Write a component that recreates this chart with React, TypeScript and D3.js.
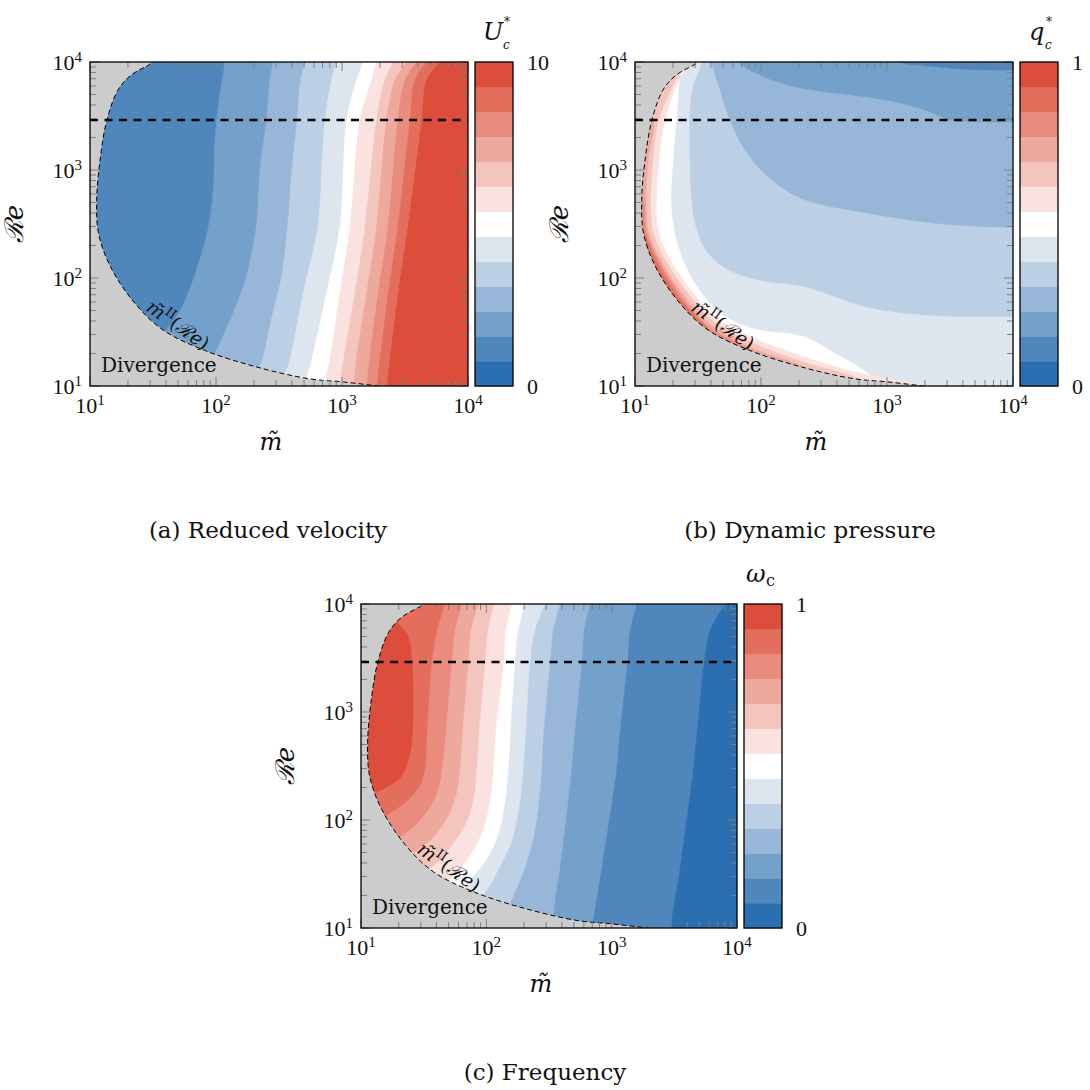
import React from 'react';
import * as d3 from 'd3';

type Pt = [number, number];
type Layer = { fill: number; pts: Pt[] };
type Side = 'right' | 'left' | 'topright' | 'bottomleft';

// 13 discrete levels, index 0 = lowest value (dark blue) ... 12 = highest (dark red)
const PALETTE = ['#2c6fb0', '#4f87bd', '#74a1ca', '#98b7d8', '#bcd0e5', '#dde6ef', '#ffffff',
  '#f9e2df', '#f3c5bd', '#eea99d', '#e98c7d', '#e36e5b', '#dc4e3b'];
const DIVERGENCE_FILL = '#cccccc';

const DECADES = [10, 100, 1000, 10000];
const DECADE_EXPONENTS = ['1', '2', '3', '4'];
const MINOR_MULTIPLIERS = [2, 3, 4, 5, 6, 7, 8, 9];
const RE_REFERENCE = 2900;

// stability limit m^II(Re): [m, Re]
const DIVERGENCE_BOUNDARY: Pt[] = [[38, 12000], [32, 10000], [21, 7500], [16.6, 5460], [13.6, 2880], [12.1, 1320],
  [11.3, 525], [11.7, 257], [14.6, 126], [22.8, 58], [38, 33], [81, 21.4], [210, 15], [540, 11.7], [1020, 10.9],
  [1920, 10], [3000, 9.3]];

// (a) reduced velocity U_c^*  (level boundaries, region of higher level lies to the right)
const VELOCITY_BASE = 1;
const VELOCITY_LAYERS: Layer[] = [
  { fill: 2, pts: [[118, 10000], [104, 3830], [98, 1880], [95, 650], [86, 276], [74, 146], [63, 83], [52, 50], [42, 35], [35, 26]] },
  { fill: 3, pts: [[285, 10000], [268, 6800], [252, 2900], [223, 1000], [210, 316], [173, 100], [143, 54], [118, 32], [98, 20], [80, 15]] },
  { fill: 4, pts: [[510, 10000], [470, 6800], [440, 2900], [400, 1000], [370, 300], [330, 100], [290, 54], [262, 32], [235, 18], [200, 12]] },
  { fill: 5, pts: [[908, 10000], [828, 6800], [733, 2900], [690, 1000], [645, 300], [493, 73], [386, 17.4], [353, 13.1], [300, 9]] },
  { fill: 6, pts: [[1475, 10000], [1306, 6800], [1090, 2900], [963, 300], [755, 73], [575, 17.4], [537, 13.1], [480, 9]] },
  { fill: 7, pts: [[1883, 10000], [1720, 6800], [1389, 2900], [1157, 300], [963, 73], [800, 17.4], [757, 13.1], [700, 9]] },
  { fill: 8, pts: [[2550, 10000], [2190, 6800], [1883, 2900], [1524, 300], [1268, 73], [1030, 17.4], [995, 13.1], [950, 9]] },
  { fill: 9, pts: [[3260, 10000], [2635, 6800], [2260, 2900], [1883, 300], [1570, 73], [1300, 17.4], [1268, 13.1], [1220, 9]] },
  { fill: 10, pts: [[3910, 10000], [3160, 6800], [2780, 2900], [2317, 300], [1940, 73], [1650, 17.4], [1607, 13.1], [1560, 9]] },
  { fill: 11, pts: [[4700, 10000], [3795, 6800], [3470, 2900], [2780, 300], [2333, 73], [2000, 17.4], [1940, 13.1], [1880, 9]] },
  { fill: 12, pts: [[6000, 10000], [4700, 6800], [4300, 2900], [3340, 300], [2800, 73], [2400, 17.4], [2333, 13.1], [2280, 9]] },
];

// (b) dynamic pressure q_c^*
const PRESSURE_BASE = 5;
const PRESSURE_BLUE_LAYERS: Layer[] = [
  { fill: 4, pts: [[36, 20000], [34, 10000], [29, 6000], [27.4, 3590], [27.4, 1200], [28.2, 528], [31, 278], [38, 170], [55, 119], [95, 96], [223, 83], [690, 54], [2317, 45], [6560, 44], [10000, 44], [20000, 44]] },
  { fill: 3, pts: [[40.8, 20000], [40.8, 10000], [47.3, 5510], [56.8, 2900], [74.7, 1530], [108, 918], [204, 551], [694, 400], [2317, 323], [6560, 297], [10000, 297], [20000, 297]] },
  { fill: 2, pts: [[68, 20000], [68, 10000], [98, 7580], [204, 5740], [694, 4745], [1268, 4170], [2317, 3370], [3160, 2900], [6560, 2780], [10000, 2780], [20000, 2780]] },
  { fill: 1, pts: [[1100, 12000], [1268, 10000], [2190, 9180], [3790, 8610], [6560, 8430], [10000, 8430], [20000, 8430]] },
];
const PRESSURE_RED_LAYERS: Layer[] = [
  { fill: 6, pts: [[24, 12000], [22.8, 7850], [21.6, 3590], [20, 1200], [19.3, 528], [20.6, 259], [25.3, 127], [34.5, 70], [49.5, 46], [86, 34], [223, 28.5], [372, 20.6], [690, 13.4], [929, 10.3], [1200, 9]] },
  { fill: 7, pts: [[36, 12900], [22.6, 6810], [17.1, 2735], [15.6, 1282], [14.8, 524], [15.3, 270], [19.3, 144], [29, 72.5], [44.2, 42.7], [88, 27.7], [217, 18.8], [551, 13.5], [1030, 11.8], [1940, 10.2], [3790, 8.8]] },
  { fill: 8, pts: [[24.9, 10400], [21.5, 7210], [15.3, 2800], [13.9, 1300], [13.3, 524], [13.9, 266], [17.8, 139], [27.2, 68.3], [42.2, 39.5], [85.5, 25.1], [213, 16.8], [546, 12.2], [879, 9.2]] },
  { fill: 9, pts: [[12.0, 3590], [14.0, 2860], [12.8, 1310], [12.2, 524], [12.9, 263], [16.6, 136], [25.5, 64.1], [40.2, 36.4], [82.6, 22.7], [210, 15.3], [353, 10.2]] },
  { fill: 10, pts: [[10.6, 653], [11.7, 525], [12.4, 261], [16.0, 133], [24.6, 62.1], [39.0, 34.5], [81.3, 21.6], [118, 14.1]] },
  { fill: 11, pts: [[11.0, 310], [11.9, 258], [15.4, 130], [23.8, 60], [38.3, 33.3], [43.2, 26.7]] },
];

// (c) frequency omega_c (region of higher level lies to the left)
const FREQUENCY_BASE = 0;
const FREQUENCY_LAYERS: Layer[] = [
  { fill: 1, pts: [[8020, 10000], [6095, 5740], [5454, 2900], [4710, 551], [4480, 310], [3508, 37], [3013, 12.6], [2864, 8.6]] },
  { fill: 2, pts: [[1585, 10000], [1400, 5740], [1333, 2900], [1143, 551], [1096, 310], [832, 37], [713, 12.6], [671, 8.6]] },
  { fill: 3, pts: [[671, 10000], [601, 5740], [577, 2900], [500, 551], [480, 310], [387, 37], [353, 18.2], [334, 9.6]] },
  { fill: 4, pts: [[387, 10000], [340, 5740], [322, 2900], [283, 551], [277, 310], [244, 81], [204, 37], [159, 18.2], [128, 9.6]] },
  { fill: 5, pts: [[294, 10000], [244, 5740], [223, 2900], [204, 551], [197, 310], [186, 153], [160, 65], [128, 37], [101, 22.5], [81, 16.3]] },
  { fill: 6, pts: [[204, 10000], [179, 5740], [169, 2900], [154, 551], [150, 310], [141, 153], [124, 73], [97.5, 41], [74.1, 28], [63.9, 22.5]] },
  { fill: 7, pts: [[160, 10000], [143, 5740], [137, 2900], [117, 551], [114, 310], [107, 153], [94, 81], [74.1, 47], [56.2, 31], [46.8, 27]] },
  { fill: 8, pts: [[115, 10000], [103, 5740], [97.5, 2900], [86.3, 551], [83.8, 310], [78.3, 153], [67.6, 90], [53.2, 59], [41.1, 41], [35.6, 36]] },
  { fill: 9, pts: [[85.8, 10000], [75.4, 5740], [71.8, 2900], [63.6, 551], [61.7, 310], [57.3, 170], [47.6, 100], [35.6, 65], [27.0, 51], [24.6, 46]] },
  { fill: 10, pts: [[63.9, 10000], [56.2, 5740], [52.9, 2900], [46.8, 551], [44.3, 310], [41.1, 190], [34.3, 124], [25.5, 84], [19.7, 68], [17.0, 59]] },
  { fill: 11, pts: [[46.8, 10000], [40.4, 5740], [36.7, 2900], [33.4, 551], [32.4, 310], [29.6, 211], [23.7, 153], [17.7, 119], [14.2, 100]] },
  { fill: 12, pts: [[17.0, 8430], [19.4, 6810], [23.7, 5060], [25.5, 3030], [26.0, 1500], [25.5, 551], [23.7, 344], [20.5, 245], [15.5, 198], [11.4, 170]] },
];

const CB_LABELS_A = ['0', '10'];
const CB_LABELS_B = ['0', '1'];
const CB_LABELS_C = ['0', '1'];
const CAPTIONS = ['(a) Reduced velocity', '(b) Dynamic pressure', '(c) Frequency'];

const SERIF = "'DejaVu Serif', serif";
const NUM = "'Liberation Serif', serif";
const LO = 1;
const HI = 1e5;

function closing(side: Side, first: Pt, last: Pt): Pt[] {
  switch (side) {
    case 'right': return [[last[0], LO], [HI, LO], [HI, HI], [first[0], HI]];
    case 'left': return [[LO, last[1]], [LO, HI], [first[0], HI]];
    case 'topright': return [[HI, last[1]], [HI, HI], [first[0], HI]];
    default: return [[last[0], LO], [LO, LO], [LO, first[1]]];
  }
}

interface PanelProps {
  id: string;
  x0: number; y0: number; w: number; h: number;
  base: number;
  groups: { side: Side; layers: Layer[] }[];
  cbLabels: string[];
  title: (cx: number, ty: number) => React.ReactNode;
  caption: string; captionX: number; captionY: number;
}

function Panel(p: PanelProps) {
  const { id, x0, y0, w, h } = p;
  const x = d3.scaleLog().domain([10, 1e4]).range([x0, x0 + w]);
  const y = d3.scaleLog().domain([10, 1e4]).range([y0 + h, y0]);
  const line = d3.line<Pt>().x(d => x(d[0])).y(d => y(d[1])).curve(d3.curveCatmullRom.alpha(0.5));
  const area = (pts: Pt[], side: Side) =>
    (line(pts) || '') + closing(side, pts[0], pts[pts.length - 1]).map(q => `L${x(q[0])},${y(q[1])}`).join('') + 'Z';

  const minors = DECADES.slice(0, -1).flatMap(d => MINOR_MULTIPLIERS.map(k => k * d));
  const tickColor = '#808080';
  const majLen = 9, minLen = 6;
  const ticks: React.ReactNode[] = [];
  const addTicks = (vals: number[], len: number, key: string) => {
    vals.forEach((v, i) => {
      const xv = x(v), yv = y(v);
      ticks.push(<line key={`${key}b${i}`} x1={xv} x2={xv} y1={y0 + h} y2={y0 + h - len} />);
      ticks.push(<line key={`${key}t${i}`} x1={xv} x2={xv} y1={y0} y2={y0 + len} />);
      ticks.push(<line key={`${key}l${i}`} x1={x0} x2={x0 + len} y1={yv} y2={yv} />);
      ticks.push(<line key={`${key}r${i}`} x1={x0 + w} x2={x0 + w - len} y1={yv} y2={yv} />);
    });
  };
  addTicks(minors, minLen, 'mi');
  addTicks(DECADES, majLen, 'ma');

  const cbX = x0 + w + 7;
  const cbW = 38;
  const bandH = h / PALETTE.length;

  return (
    <g>
      <defs>
        <clipPath id={`clip-${id}`}>
          <rect x={x0} y={y0} width={w} height={h} />
        </clipPath>
      </defs>
      <g clipPath={`url(#clip-${id})`}>
        <rect x={x0} y={y0} width={w} height={h} fill={PALETTE[p.base]} />
        {p.groups.map((g, gi) => g.layers.map((l, li) => (
          <path key={`${gi}-${li}`} d={area(l.pts, g.side)} fill={PALETTE[l.fill]} stroke={PALETTE[l.fill]} strokeWidth={0.4} />
        )))}
        <path d={area(DIVERGENCE_BOUNDARY, 'bottomleft')} fill={DIVERGENCE_FILL} />
        <path d={line(DIVERGENCE_BOUNDARY) || ''} fill="none" stroke="#000" strokeWidth={1} strokeDasharray="5 3" />
        <line x1={x0} x2={x0 + w} y1={y(RE_REFERENCE)} y2={y(RE_REFERENCE)} stroke="#000" strokeWidth={2.4} strokeDasharray="8 6.5" />
      </g>
      <g stroke={tickColor} strokeWidth={1}>{ticks}</g>
      <rect x={x0} y={y0} width={w} height={h} fill="none" stroke="#000" strokeWidth={1.3} />

      {/* annotations */}
      <text x={x0 + 11} y={y0 + 310} fontFamily={SERIF} fontSize={20} fill="#111">Divergence</text>
      <text transform={`translate(${x0 + 55},${y0 + 248}) rotate(35)`} fontFamily={SERIF} fontSize={19} fill="#111">
        <tspan fontStyle="italic">m&#771;</tspan>
        <tspan fontSize={13} dy={-8}>II</tspan>
        <tspan dy={8}>(</tspan>
        <tspan fontStyle="italic">&#8475;e</tspan>
        <tspan>)</tspan>
      </text>

      {/* tick labels */}
      {DECADES.map((v, i) => (
        <text key={`xl${i}`} x={x(v)} y={y0 + h + 27} textAnchor="middle" fontFamily={NUM} fontSize={22} fill="#111">
          10<tspan fontSize={15} dy={-8}>{DECADE_EXPONENTS[i]}</tspan>
        </text>
      ))}
      {DECADES.map((v, i) => (
        <text key={`yl${i}`} x={x0 - 8} y={y(v) + 8} textAnchor="end" fontFamily={NUM} fontSize={22} fill="#111">
          10<tspan fontSize={15} dy={-8}>{DECADE_EXPONENTS[i]}</tspan>
        </text>
      ))}

      {/* axis titles */}
      <text x={x0 + w / 2 - 8} y={y0 + h + 64} textAnchor="middle" fontFamily={SERIF} fontStyle="italic" fontSize={24} fill="#111">m&#771;</text>
      <text transform={`translate(${x0 - 67},${y0 + h / 2}) rotate(-90)`} textAnchor="middle" fontFamily={SERIF} fontStyle="italic" fontSize={26} fill="#111">&#8475;e</text>

      {/* colorbar */}
      {PALETTE.map((c, i) => (
        <rect key={`cb${i}`} x={cbX} y={y0 + h - (i + 1) * bandH} width={cbW} height={bandH + 0.3} fill={c} />
      ))}
      <rect x={cbX} y={y0} width={cbW} height={h} fill="none" stroke="#000" strokeWidth={1.3} />
      <text x={cbX + cbW + 14} y={y0 + h + 8} fontFamily={NUM} fontSize={22} fill="#111">{p.cbLabels[0]}</text>
      <text x={cbX + cbW + 14} y={y0 + 8} fontFamily={NUM} fontSize={22} fill="#111">{p.cbLabels[1]}</text>
      {p.title(cbX + cbW / 2, y0 - 22)}

      <text x={p.captionX} y={p.captionY} textAnchor="middle" fontFamily={SERIF} fontSize={23} fill="#111">{p.caption}</text>
    </g>
  );
}

export default function App() {
  return (
    <svg width={1090} height={1090} viewBox="0 0 1090 1090" xmlns="http://www.w3.org/2000/svg"
      style={{ position: 'absolute', left: 0, top: 0, background: '#fff' }}>
      <rect x={0} y={0} width={1090} height={1090} fill="#fff" />
      <Panel id="a" x0={90} y0={62} w={378} h={324} base={VELOCITY_BASE}
        groups={[{ side: 'right', layers: VELOCITY_LAYERS }]}
        cbLabels={CB_LABELS_A}
        title={(cx, ty) => (
          <g fontFamily={SERIF} fill="#111">
            <text x={cx - 11} y={ty} fontSize={24} fontStyle="italic">U</text>
            <text x={cx + 9} y={ty + 9} fontSize={12} fontStyle="italic">c</text>
            <text x={cx + 10} y={ty - 14} fontSize={12}>*</text>
          </g>
        )}
        caption={CAPTIONS[0]} captionX={268} captionY={538} />
      <Panel id="b" x0={635} y0={62} w={378} h={324} base={PRESSURE_BASE}
        groups={[{ side: 'topright', layers: PRESSURE_BLUE_LAYERS }, { side: 'bottomleft', layers: PRESSURE_RED_LAYERS }]}
        cbLabels={CB_LABELS_B}
        title={(cx, ty) => (
          <g fontFamily={SERIF} fill="#111">
            <text x={cx - 10} y={ty} fontSize={24} fontStyle="italic">q</text>
            <text x={cx + 6} y={ty + 9} fontSize={12} fontStyle="italic">c</text>
            <text x={cx + 7} y={ty - 14} fontSize={12}>*</text>
          </g>
        )}
        caption={CAPTIONS[1]} captionX={810} captionY={538} />
      <Panel id="c" x0={361} y0={604} w={376} h={324} base={FREQUENCY_BASE}
        groups={[{ side: 'left', layers: FREQUENCY_LAYERS }]}
        cbLabels={CB_LABELS_C}
        title={(cx, ty) => (
          <g fontFamily={SERIF} fill="#111">
            <text x={cx - 17} y={ty} fontSize={24} fontStyle="italic">&#969;</text>
            <text x={cx + 3} y={ty + 4} fontSize={16}>c</text>
          </g>
        )}
        caption={CAPTIONS[2]} captionX={545} captionY={1080} />
    </svg>
  );
}
